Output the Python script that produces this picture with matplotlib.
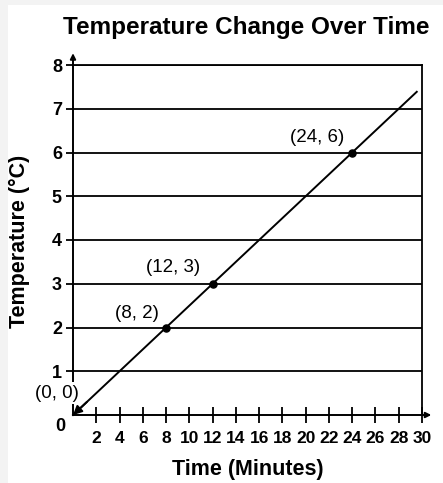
import numpy as np
import matplotlib
matplotlib.use('Agg')
import matplotlib.pyplot as plt
from matplotlib.patches import Rectangle

# data
line_x = [0, 29.55]
slope = 0.25
point_x = [8, 12, 24]
point_y = [2, 3, 6]
point_labels = ['(0, 0)', '(8, 2)', '(12, 3)', '(24, 6)']
label_pos = [(-1.4, 0.5), (5.5, 2.33), (8.6, 3.36), (21.0, 6.35)]
x_ticks = list(range(2, 31, 2))
y_ticks = list(range(1, 9))

plt.rcParams['font.family'] = ['Liberation Sans', 'DejaVu Sans']

fig = plt.figure(figsize=(4.43, 4.83), dpi=100, facecolor='#f3f3f3')
# white page with a thin grey strip on the left and top
fig.patches.append(Rectangle((8 / 443, 0), 1, 1 - 5 / 483, transform=fig.transFigure,
                             facecolor='white', edgecolor='none', zorder=-10))

ax = fig.add_axes([73 / 443, 68 / 483, 349 / 443, 350 / 483])
ax.set_facecolor('none')
ax.set_xlim(0, 30)
ax.set_ylim(0, 8)

for s in ['left', 'bottom']:
    ax.spines[s].set_visible(False)
ax.spines['right'].set_linewidth(1.3)
ax.spines['top'].set_linewidth(1.3)

# horizontal grid lines
for y in y_ticks:
    ax.axhline(y, color='black', lw=1.3, zorder=1)

# axes with arrows
ax.annotate('', xy=(0, 8.27), xytext=(0, 0), xycoords='data',
            arrowprops=dict(arrowstyle='-|>', color='black', lw=1.4,
                            mutation_scale=8, shrinkA=0, shrinkB=0),
            annotation_clip=False)
ax.annotate('', xy=(30.8, 0), xytext=(0, 0), xycoords='data',
            arrowprops=dict(arrowstyle='-|>', color='black', lw=1.4,
                            mutation_scale=8, shrinkA=0, shrinkB=0),
            annotation_clip=False)

ax.set_xticks(x_ticks)
ax.set_yticks(y_ticks)
ax.tick_params(axis='x', direction='inout', length=11, width=1.3,
               labelsize=12.5, pad=6)
ax.tick_params(axis='y', direction='out', length=5, width=1.3,
               labelsize=13, pad=3)
ax.tick_params(right=False, top=False)
for lbl in ax.get_xticklabels() + ax.get_yticklabels():
    lbl.set_fontweight('bold')

xs = np.array(line_x)
ax.plot(xs, xs * slope, color='black', lw=1.4, zorder=3, clip_on=False)
# arrow head of the line at the origin
ax.annotate('', xy=(0, 0), xytext=(1.2, 1.2 * slope),
            arrowprops=dict(arrowstyle='-|>', color='black', lw=1.4,
                            mutation_scale=13, shrinkA=0, shrinkB=0),
            annotation_clip=False, zorder=4)
ax.scatter(point_x, point_y, s=26, color='black', zorder=4, clip_on=False)

for i, (lab, (tx, ty)) in enumerate(zip(point_labels, label_pos)):
    box = dict(facecolor='white', edgecolor='none', pad=2) if i == 0 else None
    ax.text(tx, ty, lab, fontsize=13.5, ha='center', va='center',
            bbox=box, zorder=5)

ax.text(-1.12, -0.27, '0', fontsize=13, fontweight='bold', ha='center', va='center')

fig.text(0.555, 0.944, 'Temperature Change Over Time', fontsize=17.5,
         fontweight='bold', ha='center', va='center')
fig.text(0.559, 0.027, 'Time (Minutes)', fontsize=15.5, fontweight='bold',
         ha='center', va='center')
fig.text(0.045, 0.5, 'Temperature (°C)', fontsize=15.5, fontweight='bold',
         ha='center', va='center', rotation=90)

fig.savefig('out.png', dpi=100, facecolor=fig.get_facecolor())
